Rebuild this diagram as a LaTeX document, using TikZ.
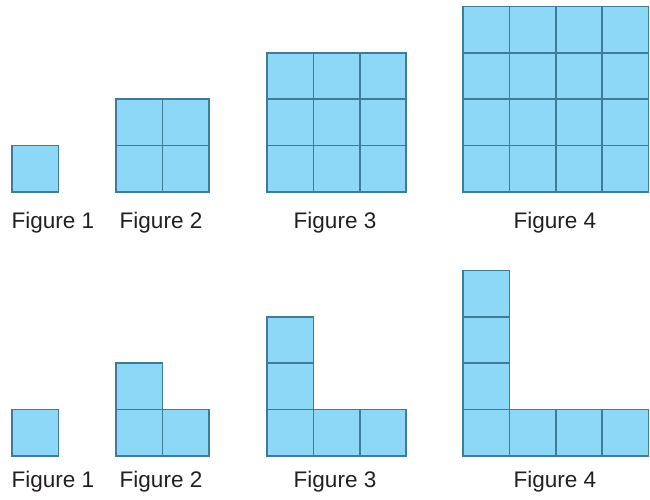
\documentclass[tikz,border=0pt]{standalone}
\usepackage{fontspec}
\setmainfont{Liberation Sans}
\usepackage{xcolor}
\usepackage{tikz}
\definecolor{bleu}{HTML}{8DD8F6}
\definecolor{bord}{HTML}{3E7C98}
\definecolor{texte}{HTML}{231F20}

\begin{document}
\begin{tikzpicture}[x=34.8pt, y=34.8pt,
    carre/.style={fill=bleu, draw=bord, line width=1.1pt},
    etiq/.style={font=\fontsize{16.9}{20}\selectfont, color=texte, anchor=base, inner sep=0pt}]
    \useasboundingbox (0,0) rectangle (14.009,10.776);
    % Carres pleins
    \foreach \n/\x in {1/0.259, 2/2.5, 3/5.754, 4/9.978} {
      \foreach \i in {1,...,\n} {
        \foreach \j in {1,...,\n} {
          \draw[carre] (\x+\i-1, 6.638+\j-1) rectangle ++(1,1);
        }
      }
    }
    % Equerres
    \foreach \n/\x in {1/0.259, 2/2.5, 3/5.754, 4/9.978} {
      \foreach \i in {1,...,\n} {
        \draw[carre] (\x+\i-1, 0.948) rectangle ++(1,1);
        \draw[carre] (\x, 0.948+\i-1) rectangle ++(1,1);
      }
    }
    % Legendes
    \foreach \n/\lx in {1/1.14, 2/3.47, 3/7.22, 4/11.96} {
      \node[etiq] (haut\n) at (\lx, 5.841) {Figure \n};
      \node[etiq] (bas\n) at (\lx, 0.265) {Figure \n};
    }
  \end{tikzpicture}
\end{document}
